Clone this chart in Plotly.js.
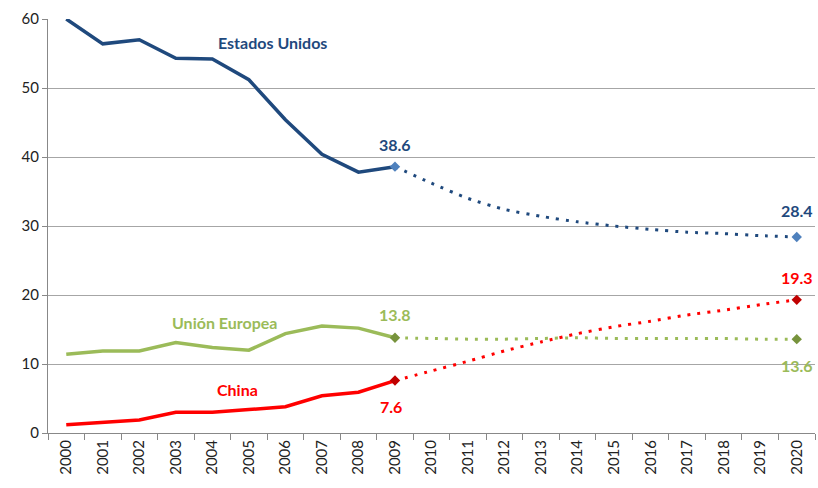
<!DOCTYPE html>
<html>
<head>
<meta charset="utf-8">
<script src="https://cdn.plot.ly/plotly-3.0.1.min.js"></script>
<style>html,body{margin:0;padding:0;background:#fff;}#chart{width:818px;height:488px;}</style>
</head>
<body>
<div id="chart"></div>
<script>
const years = ["2000","2001","2002","2003","2004","2005","2006","2007","2008","2009","2010",
  "2011","2012","2013","2014","2015","2016","2017","2018","2019","2020"];
// historical 2000-2009
const usHist    = [60.0,56.4,57.0,54.3,54.2,51.2,45.4,40.4,37.8,38.6];
const euHist    = [11.4,11.9,11.9,13.1,12.4,12.0,14.4,15.5,15.2,13.8];
const chinaHist = [1.2,1.6,1.9,3.0,3.0,3.4,3.8,5.4,5.9,7.6];
// projection 2009-2020
const usProj    = [38.6,36.2,34.0,32.4,31.4,30.6,30.0,29.5,29.1,28.9,28.6,28.4];
const euProj    = [13.8,13.7,13.6,13.6,13.7,13.8,13.7,13.7,13.7,13.7,13.6,13.6];
const chinaProj = [7.6,9.0,10.4,11.9,13.2,14.4,15.4,16.2,17.1,17.8,18.6,19.3];
const seriesNames = ["Estados Unidos","Unión Europea","China"];

const histYears = years.slice(0, 10);
const projYears = years.slice(9);

const colors = {
  us: {line:"#1F497D", proj:"#1F497D", marker:"#4F81BD"},
  eu: {line:"#9BBB59", proj:"#9BBB59", marker:"#77933C"},
  cn: {line:"#FF0000", proj:"#FF0000", marker:"#C00000"}
};

function series(hist, proj, c) {
  const ends = [0, proj.length - 1];
  return [
    {x: histYears, y: hist, type:"scatter", mode:"lines",
     line:{color:c.line, width:3.5}, hoverinfo:"skip"},
    {x: projYears, y: proj, type:"scatter", mode:"lines",
     line:{color:c.proj, width:3, dash:"3px,7px", shape:"spline", smoothing:0.6}, hoverinfo:"skip"},
    {x: ends.map(i => projYears[i]), y: ends.map(i => proj[i]), type:"scatter", mode:"markers",
     marker:{symbol:"diamond", size:8, color:c.marker}, hoverinfo:"skip"}
  ];
}

const data = [].concat(
  series(usHist, usProj, colors.us),
  series(euHist, euProj, colors.eu),
  series(chinaHist, chinaProj, colors.cn)
);

const fontFam = "Lato, 'Open Sans', sans-serif";
function ann(x, y, text, color) {
  return {x:x, y:y, xref:"x", yref:"y", text:text, showarrow:false,
    font:{family:fontFam, size:16, color:color, weight:"bold"}};
}
const annotations = [
  ann(5.64, 56.6, seriesNames[0], "#1F497D"),
  ann(4.33, 16.0, seriesNames[1], "#9BBB59"),
  ann(4.68, 6.3, seriesNames[2], "#FF0000"),
  ann(9, usHist[9] + 3.2, usHist[9].toFixed(1), "#1F497D"),
  ann(20, usProj[11] + 3.8, usProj[11].toFixed(1), "#1F497D"),
  ann(20, chinaProj[11] + 3.3, chinaProj[11].toFixed(1), "#FF0000"),
  ann(9, euHist[9] + 3.4, euHist[9].toFixed(1), "#9BBB59"),
  ann(20, euProj[11] - 3.8, euProj[11].toFixed(1), "#9BBB59"),
  ann(8.9, chinaHist[9] - 3.8, chinaHist[9].toFixed(1), "#FF0000")
];

const layout = {
  width:818, height:488,
  margin:{l:48, r:3, t:19, b:55},
  paper_bgcolor:"#fff", plot_bgcolor:"#fff",
  showlegend:false,
  font:{family:fontFam, size:15, color:"#222"},
  xaxis:{type:"category", categoryarray:years, range:[-0.5, 20.5],
    tickson:"boundaries", ticks:"outside", ticklen:6, tickcolor:"#888",
    showgrid:false, showline:true, linecolor:"#888", linewidth:1,
    tickangle:-90, tickfont:{family:fontFam, size:15, color:"#222"}, fixedrange:true},
  yaxis:{range:[0,60], dtick:10, showgrid:true, gridcolor:"#A6A6A6", gridwidth:1,
    showline:true, linecolor:"#888", linewidth:1, ticks:"outside", ticklen:5, tickcolor:"#888",
    tickfont:{family:fontFam, size:15, color:"#222"}, zeroline:false, fixedrange:true},
  annotations: annotations
};

Plotly.newPlot("chart", data, layout, {displayModeBar:false, staticPlot:true});
</script>
</body>
</html>
